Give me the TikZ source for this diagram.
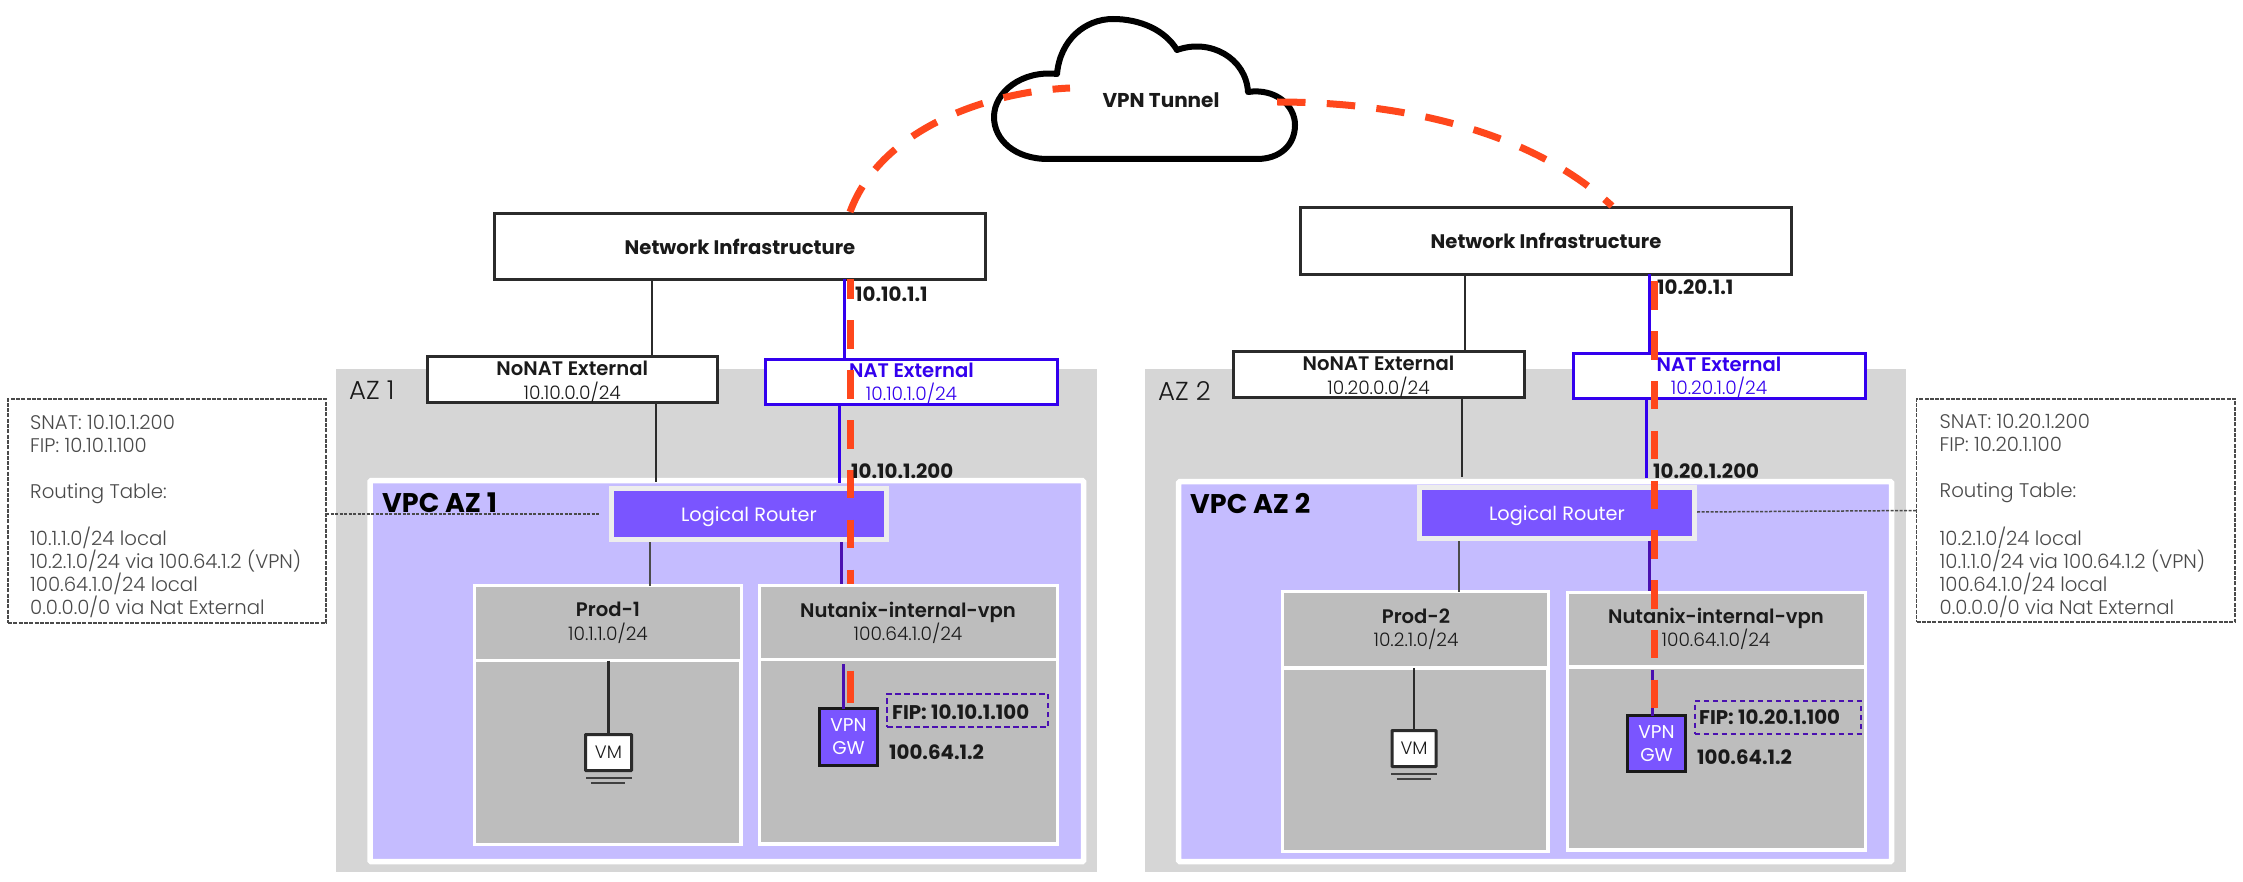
\documentclass[tikz,border=0pt]{standalone}
\usepackage{fontspec}
\setmainfont{Poppins}
\newfontfamily\lightfont{Poppins Light}
\definecolor{azgray}{HTML}{D6D6D6}
\definecolor{vpcfill}{HTML}{C5BCFF}
\definecolor{subgray}{HTML}{BDBDBD}
\definecolor{routerfill}{HTML}{7A55FF}
\definecolor{tunnel}{HTML}{FF471C}
\definecolor{natblue}{HTML}{3300EE}
\definecolor{deeppurple}{HTML}{4A10B0}
\definecolor{darkline}{HTML}{2B2B2B}
\definecolor{inktext}{HTML}{1A1A1A}
\definecolor{infotext}{HTML}{4A4A4A}
\newcommand{\rbox}[7]{%
  \pgfmathsetmacro\rw{#5-#3}\pgfmathsetmacro\rh{#6-#4}%
  \pgfmathsetmacro\rx{(#3+#5)/2}\pgfmathsetmacro\ry{(#4+#6)/2}%
  \node[#1,minimum width=\rw pt,minimum height=\rh pt,inner sep=0pt,outer sep=0pt] (#2) at (\rx,\ry) {#7};}
\newcommand{\hb}[1]{{\fontsize{19.6}{23.5}\selectfont\bfseries #1}}
\tikzset{
  azbox/.style={fill=azgray},
  vpcbox/.style={fill=vpcfill,draw=white,line width=5.5pt,rounded corners=1pt},
  infra/.style={draw=darkline,fill=white,line width=3.5pt,font=\fontsize{19.6}{22}\selectfont\bfseries,text=inktext},
  nonat/.style={draw=darkline,fill=white,line width=3pt},
  natbox/.style={draw=natblue,fill=white,line width=3pt},
  router/.style={fill=routerfill,draw=black!7,line width=5pt,text=white,text depth=0pt,font=\fontsize{19.3}{22}\selectfont},
  subnet/.style={fill=subgray,draw=white,line width=3.4pt},
  vmbox/.style={draw=darkline,fill=white,line width=3pt,rounded corners=0.5pt,text=inktext,font=\fontsize{18}{22}\lightfont},
  gwbox/.style={draw=black!90,fill=routerfill,line width=3pt,text=white,align=center,font=\fontsize{18.5}{23}\selectfont},
  fipbox/.style={draw=deeppurple,line width=2pt,dash pattern=on 5.5pt off 3.5pt},
  infobox/.style={draw=infotext,line width=1.5pt,dash pattern=on 4pt off 1.3pt,fill=white},
  cloudline/.style={draw=black,line width=6pt,fill=white,line join=round},
  headtext/.style={font=\fontsize{18.6}{23.5}\lightfont,text=inktext,align=center,inner sep=0pt},
  addr/.style={font=\fontsize{19.8}{22}\selectfont\bfseries,text=inktext,inner sep=0pt,anchor=west},
  azlabel/.style={font=\fontsize{26}{28}\lightfont,text=inktext,inner sep=0pt,anchor=west},
  vpclabel/.style={font=\fontsize{27}{28}\selectfont\bfseries,text=black,inner sep=0pt,anchor=west},
  infotxt/.style={font=\fontsize{19.7}{22.9}\lightfont,text=infotext,align=left,inner sep=0pt,anchor=west},
  wire/.style={draw=darkline,line width=2.5pt},
  wirethin/.style={draw=darkline!90,line width=2pt},
  bluewire/.style={draw=natblue,line width=3pt},
  purplewire/.style={draw=deeppurple,line width=3pt},
  leader/.style={draw=infotext,line width=1.5pt,dash pattern=on 3pt off 1.5pt},
  tunnelline/.style={draw=tunnel,line width=7pt,dash pattern=on 28.5pt off 21.3pt},
  tunnelsolid/.style={draw=tunnel,line width=7pt},
}
\begin{document}
\begin{tikzpicture}[x=1pt,y=-1pt]
\useasboundingbox[fill=white] (0,0) rectangle (2243,882);

% availability zones
\rbox{azbox}{az1}{336}{369}{1097}{872}{}
\rbox{azbox}{az2}{1145}{369}{1906}{872}{}
\node[azlabel] (az1t) at (349,390) {AZ 1};
\node[azlabel] (az2t) at (1158,391) {AZ 2};

% VPCs
\rbox{vpcbox}{vpc1}{370}{480.7}{1083.5}{861.5}{}
\rbox{vpcbox}{vpc2}{1178.7}{481.7}{1891.5}{861.5}{}
\node[vpclabel] (vpc1t) at (382,503) {VPC AZ 1};
\node[vpclabel] (vpc2t) at (1190,503) {VPC AZ 2};

% cloud
\draw[cloudline] (1048,159) .. controls (1015,159) and (994,140) .. (994,117)
  .. controls (994,92) and (1022,70) .. (1057,74)
  .. controls (1060,40) and (1085,19) .. (1113,19)
  .. controls (1140,19) and (1165,30) .. (1177,50)
  .. controls (1210,38) and (1246,58) .. (1248,92)
  .. controls (1275,88) and (1295,105) .. (1295,125)
  .. controls (1295,145) and (1280,159) .. (1257,159) -- cycle;
\node[headtext,font=\fontsize{20}{22}\selectfont\bfseries] (cloudt) at (1161,100) {VPN Tunnel};

% external boxes
\rbox{nonat}{nonat1}{427.5}{356.5}{717}{402}{}
\rbox{natbox}{nat1}{765.5}{359.5}{1057.5}{404.5}{}
\rbox{nonat}{nonat2}{1233}{351.5}{1524}{397}{}
\rbox{natbox}{nat2}{1573}{353.5}{1865}{398.5}{}
\node[headtext] (nonat1t) at ([yshift=-2.5pt]nonat1.center) {\hb{NoNAT External}\\10.10.0.0/24};
\node[headtext,text=natblue] (nat1t) at ([yshift=-1.5pt]nat1.center) {\hb{NAT External}\\10.10.1.0/24};
\node[headtext] (nonat2t) at ([yshift=-2.5pt]nonat2.center) {\hb{NoNAT External}\\10.20.0.0/24};
\node[headtext,text=natblue] (nat2t) at ([yshift=-1.5pt]nat2.center) {\hb{NAT External}\\10.20.1.0/24};

% routers
\rbox{router}{lr1}{611.5}{488.5}{886.5}{539.5}{Logical Router}
\rbox{router}{lr2}{1419.5}{487.5}{1694.5}{538.5}{Logical Router}

% network infrastructure
\rbox{infra}{net1}{494.5}{213.7}{985.5}{279.5}{Network Infrastructure}
\rbox{infra}{net2}{1300.5}{207.7}{1791.5}{274.5}{Network Infrastructure}

% prod subnets and VMs
\rbox{subnet}{p1h}{474.7}{585.7}{741.5}{660.5}{}
\rbox{subnet}{p1b}{474.7}{660.5}{741}{844.5}{}
\rbox{subnet}{p2h}{1282.7}{591.7}{1548.5}{668}{}
\rbox{subnet}{p2b}{1282.7}{668}{1548}{851.3}{}
\node[headtext] (p1t) at (608,623) {\hb{Prod-1}\\10.1.1.0/24};
\node[headtext] (p2t) at (1416,629) {\hb{Prod-2}\\10.2.1.0/24};
\rbox{vmbox}{vm1}{585.5}{734.5}{631.5}{770.5}{VM}
\rbox{vmbox}{vm2}{1392}{730.5}{1436}{766.5}{VM}
\coordinate (vm1a) at (586,778); \coordinate (vm1b) at (632,778);
\coordinate (vm1c) at (591,782.5); \coordinate (vm1d) at (625,782.5);
\coordinate (vm2a) at (1391,773.5); \coordinate (vm2b) at (1437,773.5);
\coordinate (vm2c) at (1396.5,778.5); \coordinate (vm2d) at (1431,778.5);
\draw[wirethin] (vm1a) -- (vm1b);
\draw[wirethin] (vm1c) -- (vm1d);
\draw[wirethin] (vm2a) -- (vm2b);
\draw[wirethin] (vm2c) -- (vm2d);

% column guides for the vertical connectors
\coordinate (xa1) at (652,0); \coordinate (xa1b) at (656,0); \coordinate (xa1c) at (650,0); \coordinate (xa1d) at (608.5,0);
\coordinate (xb1) at (844,0); \coordinate (xb1b) at (839,0); \coordinate (xb1c) at (841,0); \coordinate (xb1d) at (843,0);
\coordinate (xa2) at (1465,0); \coordinate (xa2b) at (1462,0); \coordinate (xa2c) at (1459,0); \coordinate (xa2d) at (1414,0);
\coordinate (xb2) at (1649,0); \coordinate (xb2b) at (1646.5,0); \coordinate (xb2c) at (1649,0); \coordinate (xb2d) at (1652,0);
\coordinate (xo1) at (850,0); \coordinate (xo2) at (1654,0);

% black connectors
\draw[wire] (xa1 |- net1.south) -- (xa1 |- nonat1.north);
\draw[wire] (xa1b |- nonat1.south) -- (656,482);
\draw[wirethin,draw=darkline!85] (xa1c |- lr1.south) ++(0,2.5) -- (xa1c |- p1h.north);
\draw[wire] (xa1d |- p1b.north) -- (xa1d |- vm1.north);
\draw[wire] (xa2 |- net2.south) -- (xa2 |- nonat2.north);
\draw[wire] (xa2b |- nonat2.south) -- (1462,477);
\draw[wirethin,draw=darkline!85] (xa2c |- lr2.south) ++(0,2.5) -- (xa2c |- p2h.north);
\draw[wire] (xa2d |- p2b.north) -- (xa2d |- vm2.north);

% NAT path
\draw[bluewire] (xb1 |- net1.south) -- (xb1 |- nat1.north);
\draw[bluewire] (xb1b |- nat1.south) -- (839,483);
\draw[purplewire] (xb1c |- lr1.south) ++(0,2.5) -- (841,584);
\draw[bluewire] (xb2 |- net2.south) -- (xb2 |- nat2.north);
\draw[bluewire] (xb2b |- nat2.south) -- (1646.5,478);
\draw[purplewire] (xb2c |- lr2.south) ++(0,2.5) -- (1649,591);

% tunnel in AZ 1 passes behind the header of the VPN subnet
\draw[tunnelline,dash phase=8.8pt] (xo1 |- net1.south) -- (850,584);

% nutanix-internal-vpn subnets
\rbox{subnet}{n1h}{759.7}{585.7}{1057.3}{659.5}{}
\rbox{subnet}{n1b}{759.7}{659.5}{1057.3}{844}{}
\rbox{subnet}{n2h}{1567.7}{592.7}{1865.3}{667}{}
\rbox{subnet}{n2b}{1567.7}{667}{1865.3}{850}{}
\node[headtext] (n1t) at (908,623) {\hb{Nutanix-internal-vpn}\\100.64.1.0/24};
\node[headtext] (n2t) at (1716,629) {\hb{Nutanix-internal-vpn}\\100.64.1.0/24};
\rbox{gwbox}{gw1}{819.5}{708.5}{877.5}{765.5}{VPN\\GW}
\rbox{gwbox}{gw2}{1627.5}{715.5}{1685.5}{771.5}{VPN\\GW}
\rbox{fipbox}{fip1}{887}{693.5}{1048}{727}{}
\rbox{fipbox}{fip2}{1694.5}{701}{1861}{733.5}{}
\draw[purplewire] (843,664) -- (xb1d |- gw1.north);
\draw[purplewire] (1652,670) -- (xb2d |- gw2.north);
\node[addr] (fip1t) at (892,712) {FIP: 10.10.1.100};
\node[addr] (fip2t) at (1699,717) {FIP: 10.20.1.100};
\node[addr] (gw1t) at (889,752) {100.64.1.2};
\node[addr] (gw2t) at (1697,757) {100.64.1.2};

% interface addresses
\node[addr] (ip11) at (855,294) {10.10.1.1};
\node[addr] (ip12) at (851,471) {10.10.1.200};
\node[addr] (ip21) at (1657,287) {10.20.1.1};
\node[addr] (ip22) at (1653,471) {10.20.1.200};

% tunnel
\coordinate (t1a) at (850,212);
\coordinate (t1b) at (1070,88);
\coordinate (t2a) at (1277,102);
\coordinate (t2b) at (1612,206);
\coordinate (t1c) at (850,670.6);
\coordinate (t1d) at (850,703);
\draw[tunnelline] (t1a) .. controls (880,130) and (985,92) .. (t1b);
\draw[tunnelline] (t2a) .. controls (1400,102) and (1530,130) .. (t2b);
\draw[tunnelsolid] (t1c) -- (t1d);
\draw[tunnelline,dash phase=43pt] (xo2 |- net2.south) -- (1654,710);

% route tables
\rbox{infobox}{info1}{8}{399}{326}{623}{}
\rbox{infobox}{info2}{1916.5}{399}{2235}{622}{}
\node[infotxt] (info1t) at (30,516.5) {SNAT: 10.10.1.200\\FIP: 10.10.1.100\\[22.9pt]Routing Table:\\[22.9pt]10.1.1.0/24 local\\10.2.1.0/24 via 100.64.1.2 (VPN)\\100.64.1.0/24 local\\0.0.0.0/0 via Nat External};
\node[infotxt] (info2t) at (1939.5,516) {SNAT: 10.20.1.200\\FIP: 10.20.1.100\\[22.9pt]Routing Table:\\[22.9pt]10.2.1.0/24 local\\10.1.1.0/24 via 100.64.1.2 (VPN)\\100.64.1.0/24 local\\0.0.0.0/0 via Nat External};
\coordinate (ld1) at (600,514);
\coordinate (ld2) at (1697,512);
\draw[leader] (info1.east |- ld1) -- (ld1);
\draw[leader] (ld2) -- (info2.west);
\end{tikzpicture}
\end{document}
